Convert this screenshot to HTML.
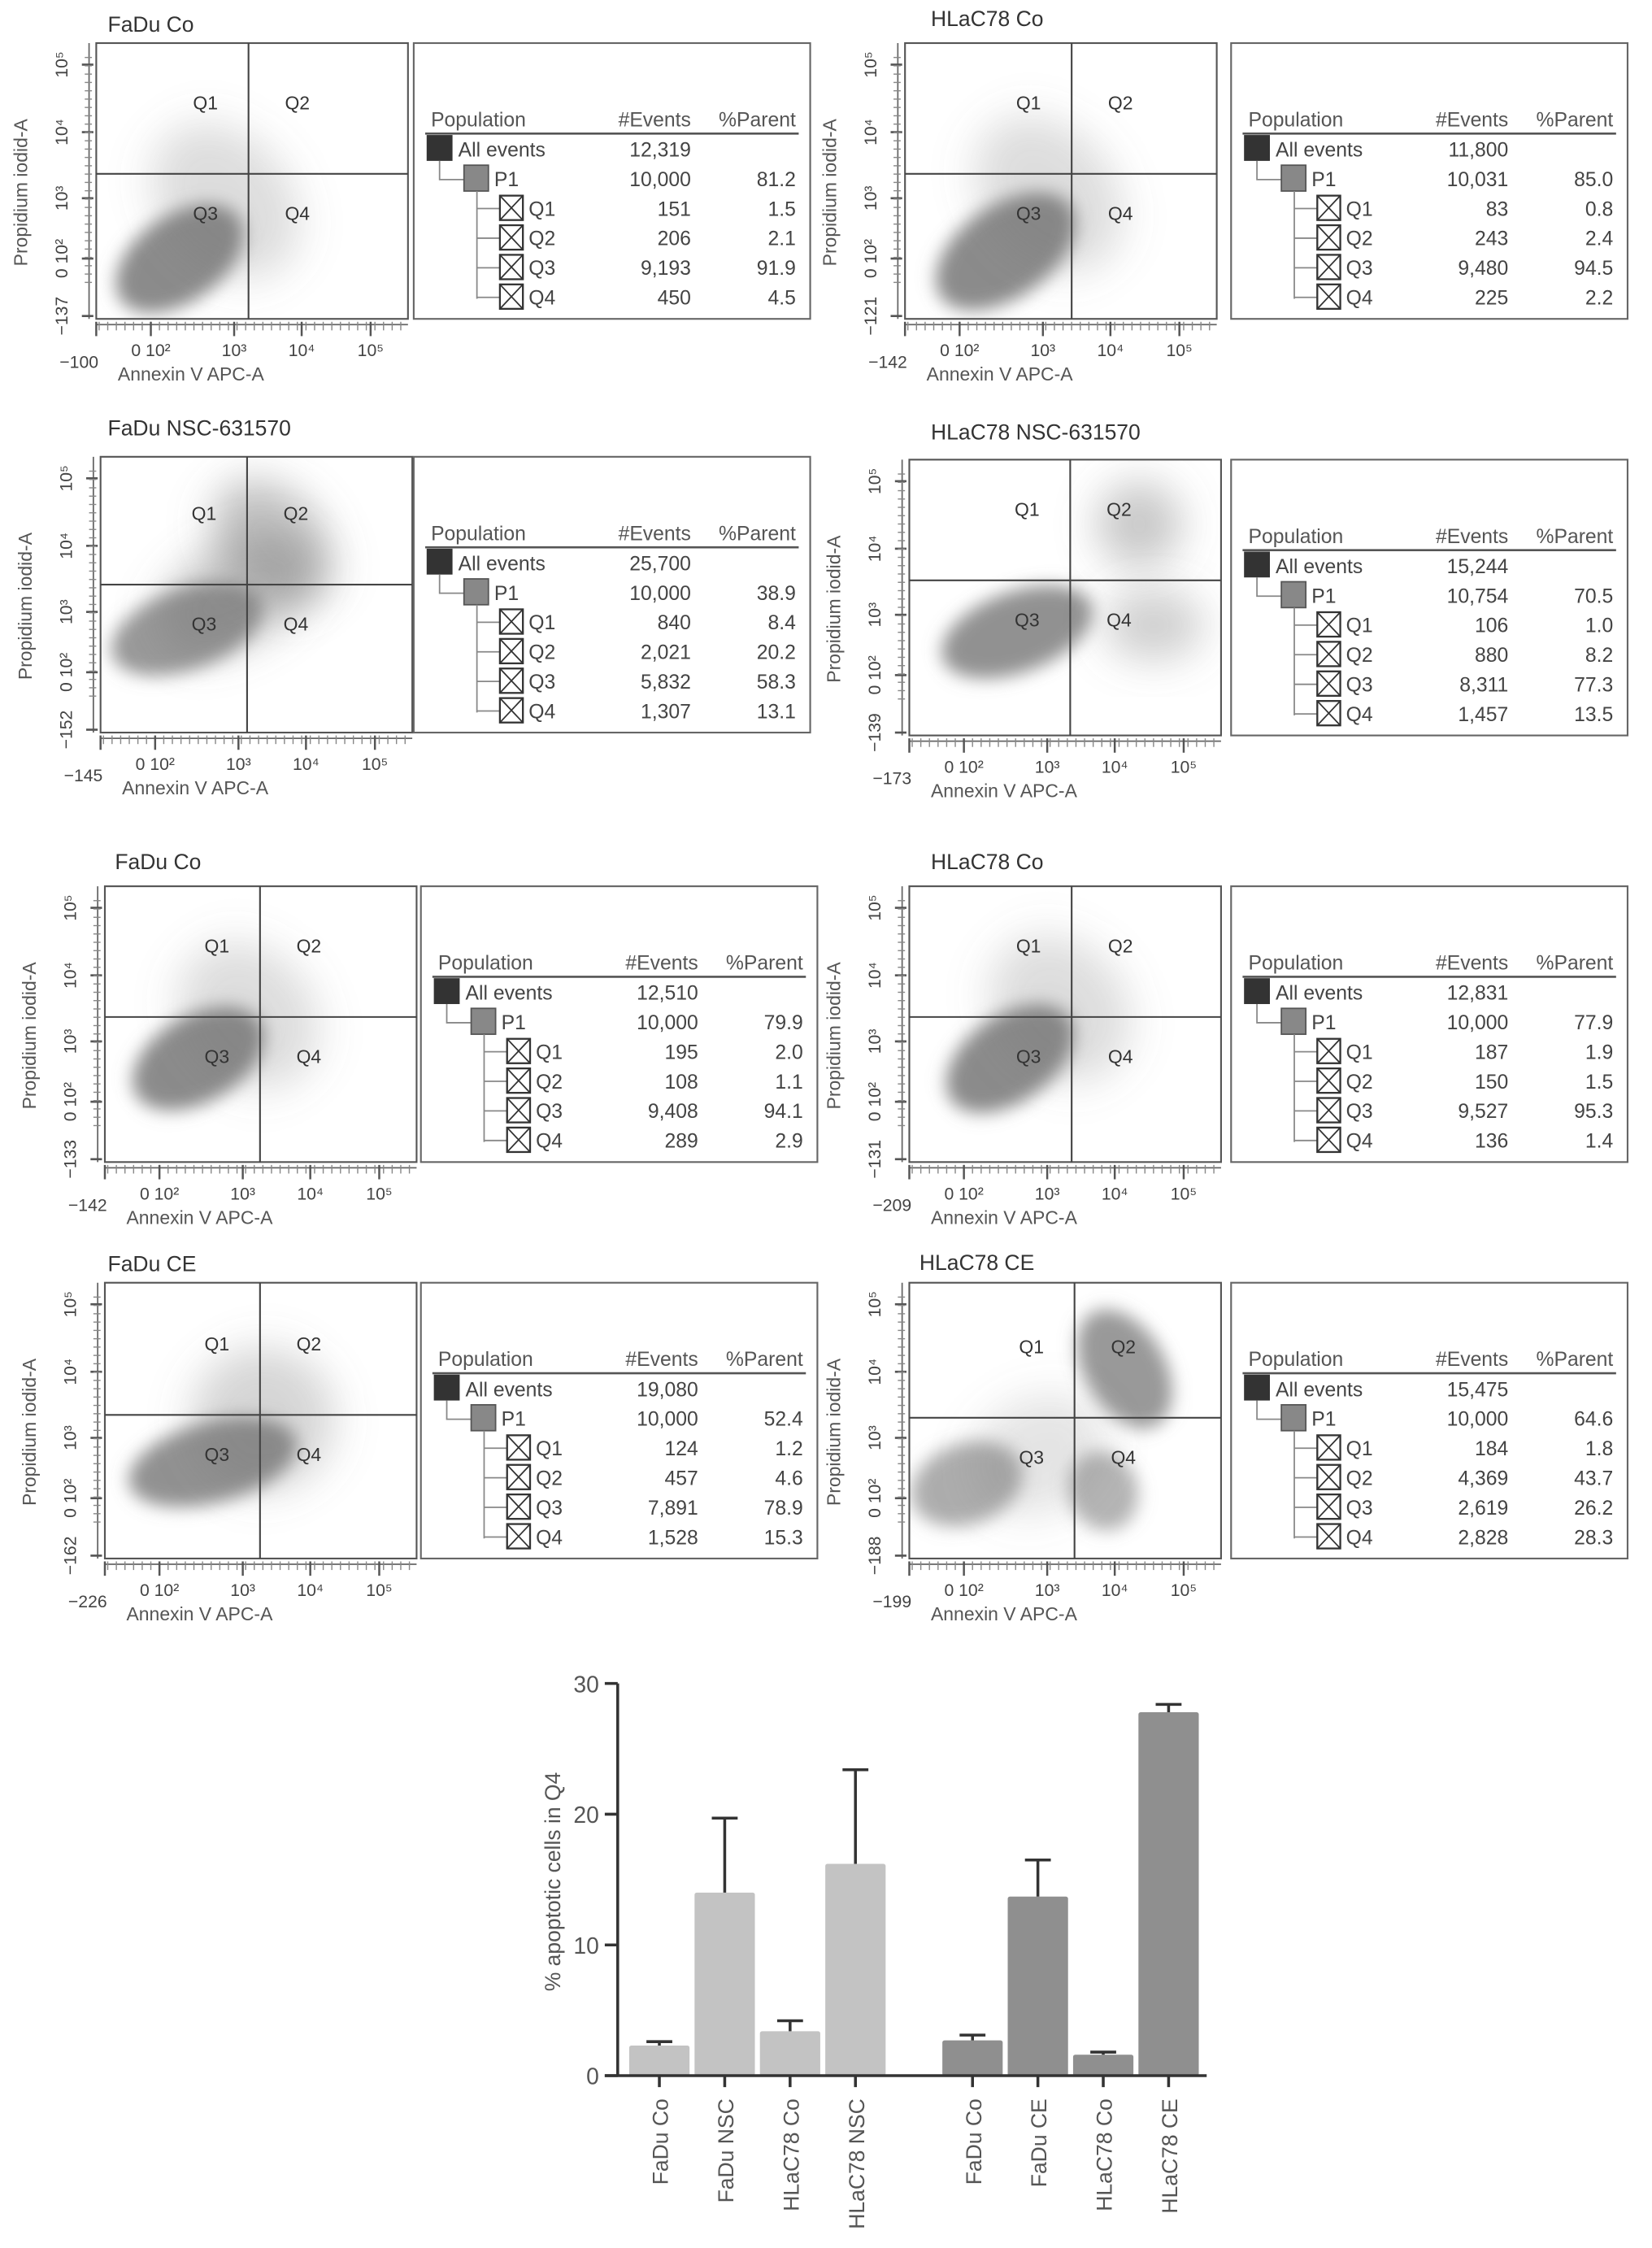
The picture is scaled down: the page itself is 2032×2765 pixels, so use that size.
<!DOCTYPE html>
<html><head><meta charset="utf-8">
<style>
html,body{margin:0;padding:0;background:#fff;}
svg{display:block;font-family:"Liberation Sans",Arial,sans-serif;}
</style></head>
<body>
<svg id="root" width="2032" height="2765" viewBox="0 0 1150 1565" preserveAspectRatio="none" xmlns="http://www.w3.org/2000/svg">
<defs>
<filter id="blur" x="-50%" y="-50%" width="200%" height="200%"><feGaussianBlur stdDeviation="6"/></filter>
<filter id="blur2" x="-50%" y="-50%" width="200%" height="200%"><feGaussianBlur stdDeviation="14"/></filter>
</defs>
<g id="panels"></g>
<g id="bars"></g>
</svg>
<script>
const NS="http://www.w3.org/2000/svg";
function mk(parent,tag,attrs,text){const e=document.createElementNS(NS,tag);for(const k in attrs)e.setAttribute(k,attrs[k]);if(text!==undefined)e.textContent=text;parent.appendChild(e);return e;}

// ---------- flow panels ----------
const panelTitles=["FaDu Co","HLaC78 Co","FaDu NSC-631570","HLaC78 NSC-631570","FaDu Co","HLaC78 Co","FaDu CE","HLaC78 CE"];
const panelXMin=["−100","−142","−145","−173","−142","−209","−226","−199"];
const panelYMin=["−137","−121","−152","−139","−133","−131","−162","−188"];
const allEvents=["12,319","11,800","25,700","15,244","12,510","12,831","19,080","15,475"];
const p1Events=["10,000","10,031","10,000","10,754","10,000","10,000","10,000","10,000"];
const p1Parent=["81.2","85.0","38.9","70.5","79.9","77.9","52.4","64.6"];
const qEvents=[["151","206","9,193","450"],["83","243","9,480","225"],["840","2,021","5,832","1,307"],["106","880","8,311","1,457"],["195","108","9,408","289"],["187","150","9,527","136"],["124","457","7,891","1,528"],["184","4,369","2,619","2,828"]];
const qParent=[["1.5","2.1","91.9","4.5"],["0.8","2.4","94.5","2.2"],["8.4","20.2","58.3","13.1"],["1.0","8.2","77.3","13.5"],["2.0","1.1","94.1","2.9"],["1.9","1.5","95.3","1.4"],["1.2","4.6","78.9","15.3"],["1.8","43.7","26.2","28.3"]];
// layout
const L=[
 {px:67,py:30,tx:75,ty:22,gx:106,gy:91,bx:288,by:30},
 {px:630,py:30,tx:648,ty:18,gx:116,gy:91,bx:857,by:30},
 {px:70,py:318,tx:75,ty:303,gx:102,gy:89,bx:288,by:318},
 {px:633,py:320,tx:648,ty:306,gx:112,gy:84,bx:857,by:320},
 {px:73,py:617,tx:80,ty:605,gx:108,gy:91,bx:293,by:617},
 {px:633,py:617,tx:648,ty:605,gx:113,gy:91,bx:857,by:617},
 {px:73,py:893,tx:75,ty:885,gx:108,gy:92,bx:293,by:893},
 {px:633,py:893,tx:640,ty:884,gx:115,gy:94,bx:857,by:893}
];
// cloud shapes [cx,cy,rx,ry,rot,opacity,blur]
const clouds=[
 [[58,150,50,30,-35,.85,1],[90,110,45,60,-40,.25,2]],
 [[70,145,55,32,-35,.85,1],[100,105,45,60,-40,.25,2]],
 [[60,120,55,28,-20,.75,1],[120,60,35,50,-40,.45,2],[95,95,60,35,-30,.4,2]],
 [[75,120,55,28,-20,.8,1],[160,45,30,30,0,.4,2],[170,115,35,25,0,.35,2]],
 [[65,120,50,30,-30,.85,1],[100,90,45,55,-40,.25,2]],
 [[70,120,50,30,-35,.85,1],[105,85,45,55,-40,.25,2]],
 [[75,125,60,28,-15,.8,1],[110,95,50,50,-30,.3,2]],
 [[40,140,40,28,-20,.6,1],[150,60,28,45,-30,.75,1],[135,145,24,28,-20,.55,1],[90,120,50,40,-30,.2,2]]
];
const G=document.getElementById('panels');
for(let i=0;i<8;i++){
 const p=L[i],W=217,H=192;
 const g=mk(G,'g',{});
 
 
 const t=mk(g,'text',{x:p.tx,y:p.ty,'font-size':15,fill:'#333'},panelTitles[i]);
 
 
 // plot box
 const clip='c'+i;
 const cp=mk(g,'clipPath',{id:clip});mk(cp,'rect',{x:p.px,y:p.py,width:W,height:H});
 const cg=mk(g,'g',{'clip-path':'url(#'+clip+')'});
 
 
 for(const c of clouds[i]){
  mk(cg,'ellipse',{cx:p.px+c[0],cy:p.py+c[1],rx:c[2],ry:c[3],transform:`rotate(${c[4]} ${p.px+c[0]} ${p.py+c[1]})`,fill:'#777','fill-opacity':c[5],filter:c[6]==1?'url(#blur)':'url(#blur2)'});
 }
 const box=mk(g,'rect',{x:p.px,y:p.py,width:W,height:H,fill:'none',stroke:'#555','stroke-width':1.2});
 
 
 mk(g,'line',{x1:p.px+p.gx,y1:p.py,x2:p.px+p.gx,y2:p.py+H,stroke:'#444','stroke-width':1.2});
 mk(g,'line',{x1:p.px,y1:p.py+p.gy,x2:p.px+W,y2:p.py+p.gy,stroke:'#444','stroke-width':1.2});
 const ql=[["Q1",p.gx-30,p.gy-45],["Q2",p.gx+34,p.gy-45],["Q3",p.gx-30,p.gy+32],["Q4",p.gx+34,p.gy+32]];
 for(const q of ql){const e=mk(g,'text',{x:p.px+q[1],y:p.py+q[2],'font-size':13,fill:'#333','text-anchor':'middle'},q[0]);
  }
 // y axis ticks
 mk(g,'line',{x1:p.px-5,y1:p.py,x2:p.px-5,y2:p.py+H,stroke:'#666','stroke-width':1});
 const yd=[[15,"10⁵"],[62,"10⁴"],[108,"10³"],[150,"0 10²"],[190,panelYMin[i]]];
 for(const y of yd){
  mk(g,'line',{x1:p.px-10,y1:p.py+y[0],x2:p.px-2,y2:p.py+y[0],stroke:'#555','stroke-width':1.5});
  const e=mk(g,'text',{x:p.px-20,y:p.py+y[0],'font-size':12,fill:'#444','text-anchor':'middle',transform:`rotate(-90 ${p.px-20} ${p.py+y[0]})`},y[1]);
  
 }
 for(let k=0;k<28;k++){const yy=p.py+10+k*5.8;mk(g,'line',{x1:p.px-8,y1:yy,x2:p.px-3,y2:yy,stroke:'#888','stroke-width':.8});}
 const yl=mk(g,'text',{x:p.px-48,y:p.py+H/2+8,'font-size':13,fill:'#555','text-anchor':'middle',transform:`rotate(-90 ${p.px-48} ${p.py+H/2+8})`},"Propidium iodid-A");
 
 // x axis
 mk(g,'line',{x1:p.px,y1:p.py+H+4,x2:p.px+W,y2:p.py+H+4,stroke:'#666','stroke-width':1});
 for(let k=0;k<36;k++){const xx=p.px+2+k*6;mk(g,'line',{x1:xx,y1:p.py+H+2,x2:xx,y2:p.py+H+8,stroke:'#888','stroke-width':.8});}
 const xd=[[-12,panelXMin[i],22],[38,"0 10²",14],[96,"10³",14],[143,"10⁴",14],[191,"10⁵",14]];
 for(const x of xd){
  mk(g,'line',{x1:p.px+Math.max(x[0],0),y1:p.py+H+2,x2:p.px+Math.max(x[0],0),y2:p.py+H+12,stroke:'#555','stroke-width':1.4});
  const e=mk(g,'text',{x:p.px+x[0],y:p.py+H+x[2]+12,'font-size':12,fill:'#444','text-anchor':'middle'},x[1]);
  
 }
 const xl=mk(g,'text',{x:p.px+15,y:p.py+H+43,'font-size':13,fill:'#555'},"Annexin V APC-A");
 
 // table
 const tb=mk(g,'g',{});
 
 mk(tb,'rect',{x:p.bx,y:p.by,width:276,height:H,fill:'#fff',stroke:'#666','stroke-width':1.2});
 const bx=p.bx,by=p.by;
 mk(tb,'text',{x:bx+12,y:by+58,'font-size':14,fill:'#555'},"Population");
 mk(tb,'text',{x:bx+193,y:by+58,'font-size':14,fill:'#555','text-anchor':'end'},"#Events");
 mk(tb,'text',{x:bx+266,y:by+58,'font-size':14,fill:'#555','text-anchor':'end'},"%Parent");
 mk(tb,'line',{x1:bx+8,y1:by+63,x2:bx+268,y2:by+63,stroke:'#555','stroke-width':1.5});
 const rowY=k=>by+79+k*20.6;
 mk(tb,'rect',{x:bx+9,y:by+64,width:18,height:18,fill:'#333'});
 mk(tb,'text',{x:bx+31,y:rowY(0),'font-size':14,fill:'#444'},"All events");
 mk(tb,'text',{x:bx+193,y:rowY(0),'font-size':14,fill:'#444','text-anchor':'end'},allEvents[i]);
 mk(tb,'polyline',{points:`${bx+18},${by+82} ${bx+18},${by+95} ${bx+35},${by+95}`,fill:'none',stroke:'#888'});
 mk(tb,'rect',{x:bx+35,y:by+85,width:17,height:18,fill:'#888',stroke:'#555'});
 mk(tb,'text',{x:bx+56,y:rowY(1),'font-size':14,fill:'#444'},"P1");
 mk(tb,'text',{x:bx+193,y:rowY(1),'font-size':14,fill:'#444','text-anchor':'end'},p1Events[i]);
 mk(tb,'text',{x:bx+266,y:rowY(1),'font-size':14,fill:'#444','text-anchor':'end'},p1Parent[i]);
 mk(tb,'line',{x1:bx+44,y1:by+103,x2:bx+44,y2:by+178,stroke:'#888'});
 for(let k=0;k<4;k++){
  const yy=rowY(k+2);
  mk(tb,'line',{x1:bx+44,y1:yy-5,x2:bx+60,y2:yy-5,stroke:'#888'});
  mk(tb,'rect',{x:bx+60,y:yy-14,width:16,height:17,fill:'#fff',stroke:'#333','stroke-width':1.3});
  mk(tb,'path',{d:`M${bx+60} ${yy-14}L${bx+76} ${yy+3}M${bx+76} ${yy-14}L${bx+60} ${yy+3}`,stroke:'#333','stroke-width':1});
  mk(tb,'text',{x:bx+80,y:yy,'font-size':14,fill:'#444'},"Q"+(k+1));
  mk(tb,'text',{x:bx+193,y:yy,'font-size':14,fill:'#444','text-anchor':'end'},qEvents[i][k]);
  mk(tb,'text',{x:bx+266,y:yy,'font-size':14,fill:'#444','text-anchor':'end'},qParent[i][k]);
 }
}

// ---------- bar chart ----------
const barCats=["FaDu Co","FaDu NSC","HLaC78 Co","HLaC78 NSC","FaDu Co","FaDu CE","HLaC78 Co","HLaC78 CE"];
const barValues=[2.3,14.0,3.4,16.2,2.7,13.7,1.6,27.8];
const barErrTop=[2.6,19.7,4.2,23.4,3.1,16.5,1.8,28.4];
const barGroup=[0,0,0,0,1,1,1,1];
const yTicks=[0,10,20,30];
const B=document.getElementById('bars');
const ax={x0:430,x1:840,yBase:1445,yTop:1172,max:30};
const yS=v=>ax.yBase-(v/ax.max)*(ax.yBase-ax.yTop);
const xS=i=>459+i*45.5+(barGroup[i]?36:0);
const bw=42;
for(let i=0;i<barValues.length;i++){
 const r=mk(B,'rect',{x:xS(i)-bw/2,y:yS(barValues[i]),width:bw,height:ax.yBase-yS(barValues[i]),fill:barGroup[i]?'#8f8f8f':'#c3c3c3',rx:1.5});
 
 
 const e=mk(B,'path',{d:`M${xS(i)} ${yS(barValues[i])}V${yS(barErrTop[i])}M${xS(i)-9} ${yS(barErrTop[i])}H${xS(i)+9}`,stroke:'#333','stroke-width':2,fill:'none'});
 
 
 mk(B,'line',{x1:xS(i),y1:ax.yBase,x2:xS(i),y2:ax.yBase+8,stroke:'#333','stroke-width':2});
 const tl=mk(B,'text',{x:xS(i)+6,y:ax.yBase+16,'font-size':15,fill:'#555','text-anchor':'end',transform:`rotate(-90 ${xS(i)+6} ${ax.yBase+16})`},barCats[i]);
 
 
}
mk(B,'line',{x1:ax.x0,y1:ax.yTop,x2:ax.x0,y2:ax.yBase,stroke:'#333','stroke-width':2});
mk(B,'line',{x1:ax.x0-9,y1:ax.yBase,x2:ax.x1,y2:ax.yBase,stroke:'#333','stroke-width':2});
for(const t of yTicks){
 mk(B,'line',{x1:ax.x0-9,y1:yS(t),x2:ax.x0,y2:yS(t),stroke:'#333','stroke-width':2});
 const e=mk(B,'text',{x:ax.x0-13,y:yS(t)+6,'font-size':16,fill:'#555','text-anchor':'end'},String(t));
 
 
}
const yt=mk(B,'text',{x:390,y:1310,'font-size':15,fill:'#555','text-anchor':'middle',transform:'rotate(-90 390 1310)'},"% apoptotic cells in Q4");


</script>
</body></html>
